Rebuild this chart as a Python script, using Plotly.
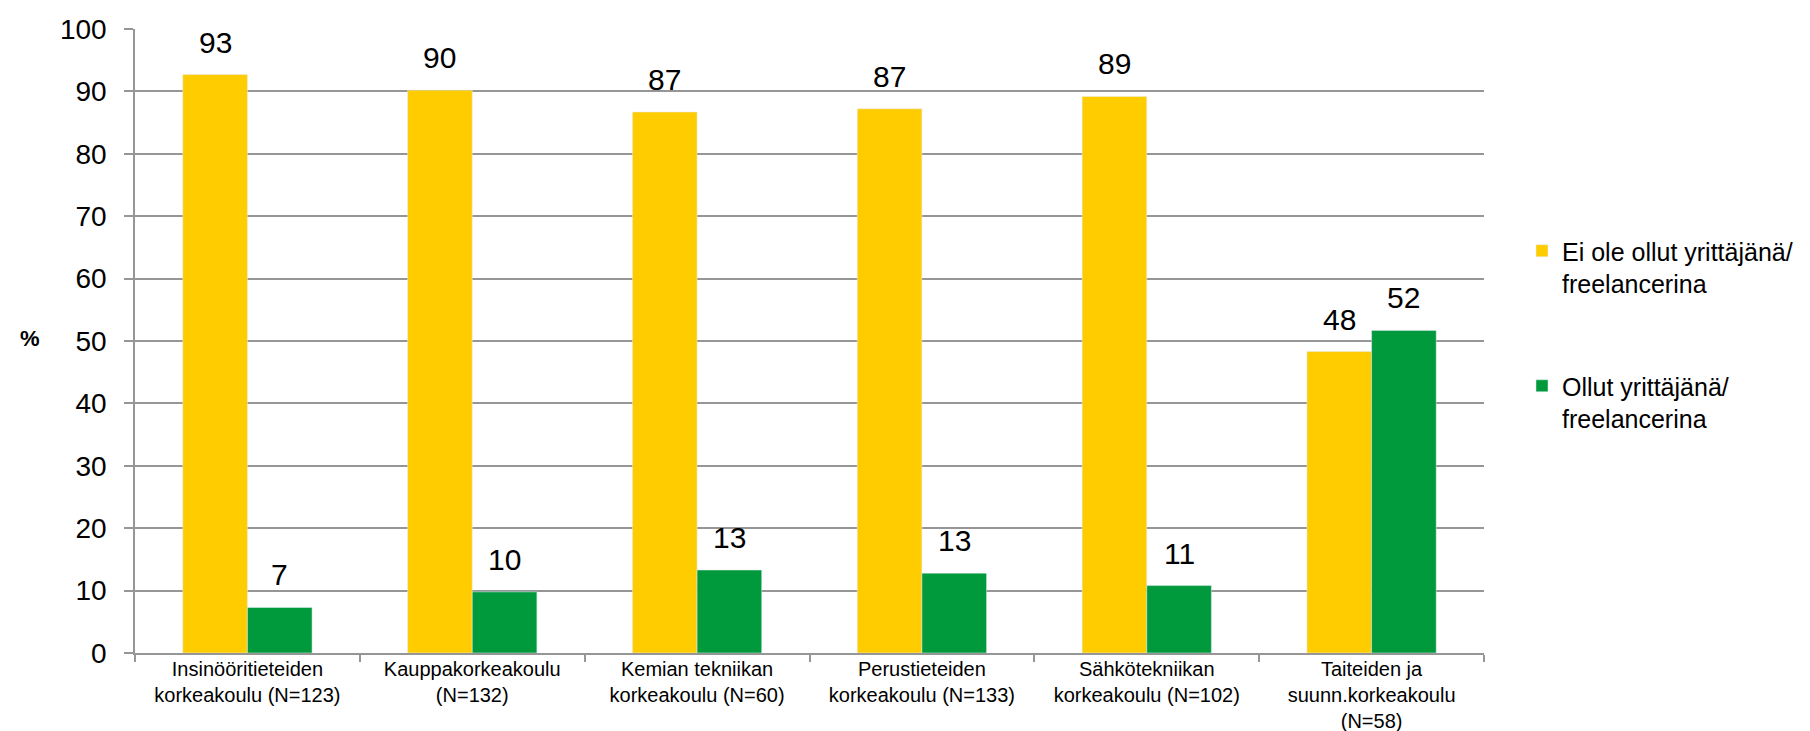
import plotly.graph_objects as go

categories = [
    "Insinööritieteiden<br>korkeakoulu (N=123)",
    "Kauppakorkeakoulu<br>(N=132)",
    "Kemian tekniikan<br>korkeakoulu (N=60)",
    "Perustieteiden<br>korkeakoulu (N=133)",
    "Sähkötekniikan<br>korkeakoulu (N=102)",
    "Taiteiden ja<br>suunn.korkeakoulu<br>(N=58)",
]
ei_yrittaja = [92.7, 90.2, 86.7, 87.2, 89.2, 48.3]
yrittaja = [7.3, 9.8, 13.3, 12.8, 10.8, 51.7]

font_family = "Arial, Liberation Sans, sans-serif"

# plot area in pixels
L, R, T, B = 127, 1476, 21, 645
W, H = 1810, 731
plot_w = R - L
bar_px = 64.7

fig = go.Figure()
fig.add_trace(go.Bar(
    x=categories, y=ei_yrittaja,
    name="Ei ole ollut yrittäjänä/<br>freelancerina",
    legendgroup="a",
    marker_color="#FFCC00",
))
fig.add_trace(go.Bar(
    x=categories, y=yrittaja,
    name="Ollut yrittäjänä/<br>freelancerina",
    legendgroup="b",
    marker_color="#009A3D",
))

# value labels above the bars
annots = []
for vals, shift in [(ei_yrittaja, -bar_px / 2), (yrittaja, bar_px / 2)]:
    for c, v in zip(categories, vals):
        annots.append(dict(
            x=c, y=v, xref="x", yref="y", text=f"{v:.0f}",
            showarrow=False, xshift=shift, yshift=14,
            xanchor="center", yanchor="bottom",
            font=dict(size=30, color="black"),
        ))

annots.append(dict(
    text="<b>%</b>", x=(22 - L) / plot_w, y=(B - 330) / (B - T),
    xref="paper", yref="paper", showarrow=False,
    font=dict(size=22), xanchor="center", yanchor="middle",
))

fig.update_layout(
    width=W, height=H,
    margin=dict(l=L, r=W - R, t=T, b=H - B, autoexpand=False),
    paper_bgcolor="white", plot_bgcolor="white",
    font=dict(family=font_family, color="black"),
    barmode="group", bargap=0.425, bargroupgap=0,
    showlegend=True,
    legend=dict(
        x=(1514 - L) / plot_w, y=(B - 220) / (B - T),
        xanchor="left", yanchor="top",
        font=dict(size=25), tracegroupgap=67,
        itemwidth=30, valign="top",
    ),
    annotations=annots,
)

fig.update_yaxes(
    range=[0, 100], dtick=10, automargin=False,
    showgrid=True, gridcolor="#969696", gridwidth=1.6,
    showline=True, linecolor="#969696", linewidth=1.6,
    ticks="outside", ticklen=9, tickcolor="#969696", tickwidth=1.6,
    tickfont=dict(size=28), ticklabelstandoff=12,
    zeroline=False,
)
fig.update_xaxes(
    automargin=False,
    showline=True, linecolor="#969696", linewidth=1.6,
    ticks="outside", tickson="boundaries", ticklen=7,
    tickcolor="#969696", tickwidth=1.6,
    tickfont=dict(size=20), ticklabelstandoff=-3,
)

fig.write_html("out.html")
